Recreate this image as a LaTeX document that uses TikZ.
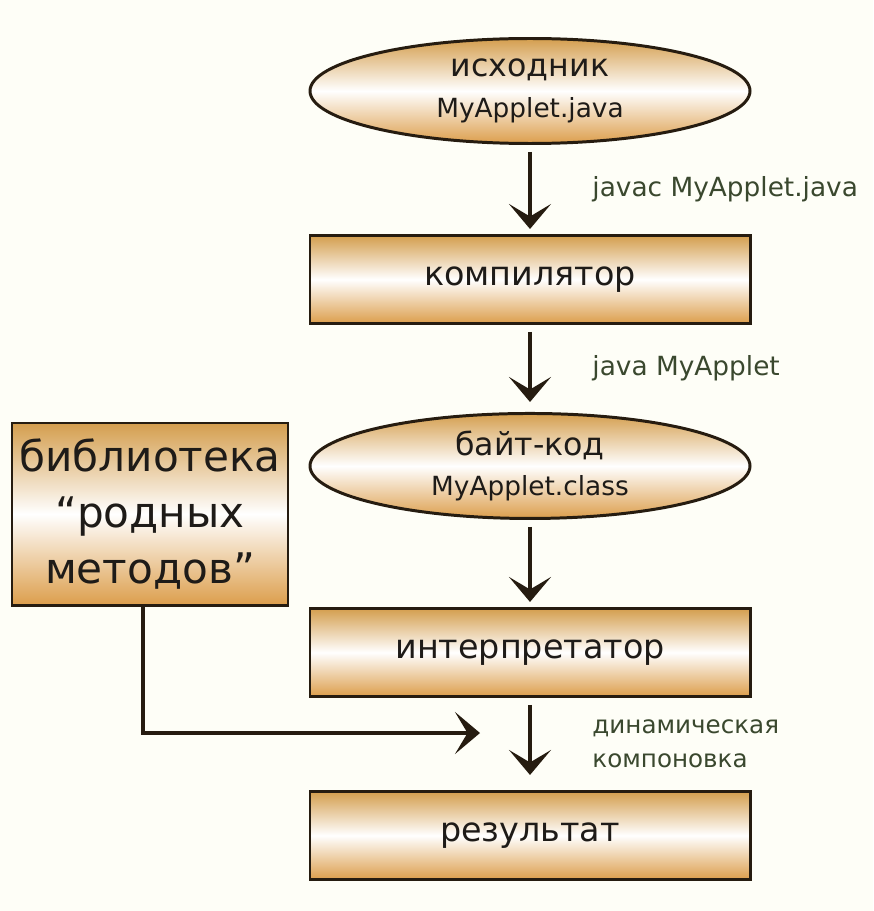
\documentclass[tikz,border=0pt]{standalone}
\usepackage{fontspec}
\setmainfont{DejaVu Sans}
\usepackage{xcolor}
\usepackage{tikz}
\usetikzlibrary{positioning, arrows.meta, shapes.geometric}

\definecolor{bgcream}{RGB}{254,254,247}
\definecolor{goldtop}{RGB}{212,158,78}
\definecolor{goldlow}{RGB}{220,158,76}
\definecolor{edgebrown}{RGB}{38,28,16}
\definecolor{ink}{RGB}{30,27,24}
\definecolor{lblgreen}{RGB}{58,72,46}

\begin{document}
\begin{tikzpicture}[>={Stealth[length=5mm,width=8.4mm,inset=2.5mm]},
    block/.style={draw=edgebrown, line width=1.7pt, rectangle, minimum width=8.8cm, minimum height=1.76cm,
                  top color=goldtop, bottom color=goldlow, middle color=white, text=ink,
                  font=\fontsize{19}{23}\selectfont},
    oval/.style={block, ellipse, minimum height=2.1cm, inner sep=0pt, align=center},
    flow/.style={->, draw=edgebrown, line width=2.8pt, shorten <=0.14cm},
    lbl/.style={text=lblgreen, inner sep=0pt, align=left, font=\fontsize{15}{19}\selectfont}]
    \fill[bgcream] (0,0) rectangle (17.46,-18.22);
    \useasboundingbox (0,0) rectangle (17.46,-18.22);

    % main chain
    \node[oval] (source) at (10.6,-1.82) {{\fontsize{18}{22}\selectfont исходник}\\{\fontsize{15}{18}\selectfont MyApplet.java}};
    \node[block, below=1.78cm of source] (compiler) {компилятор};
    \node[oval, below=1.74cm of compiler] (bytecode) {{\fontsize{18}{22}\selectfont байт-код}\\{\fontsize{15}{18}\selectfont MyApplet.class}};
    \node[block, below=1.74cm of bytecode] (interp) {интерпретатор};
    \node[block, below=1.84cm of interp] (result) {результат};

    % native methods
    \node[block, minimum width=5.52cm, minimum height=3.64cm, align=center,
          font=\fontsize{24}{32}\selectfont] (natlib) at (3.0,-10.28) {библиотека\\“родных\\методов”};
    \coordinate (link) at (9.6,-14.66);

    \draw[flow, shorten >=0.1cm] (source) -- node[lbl, right=1.2cm] {javac MyApplet.java} (compiler);
    \draw[flow, shorten >=0.2cm] (compiler) -- node[lbl, right=1.2cm] {java MyApplet} (bytecode);
    \draw[flow, shorten >=0.1cm] (bytecode) -- (interp);
    \draw[flow, shorten >=0.3cm] (interp) -- node[lbl, right=1.2cm, font=\fontsize{14}{19.5}\selectfont] {динамическая\\компоновка} (result);
    \draw[flow, shorten <=0pt] ([xshift=-0.14cm]natlib.south) |- (link);
\end{tikzpicture}
\end{document}
